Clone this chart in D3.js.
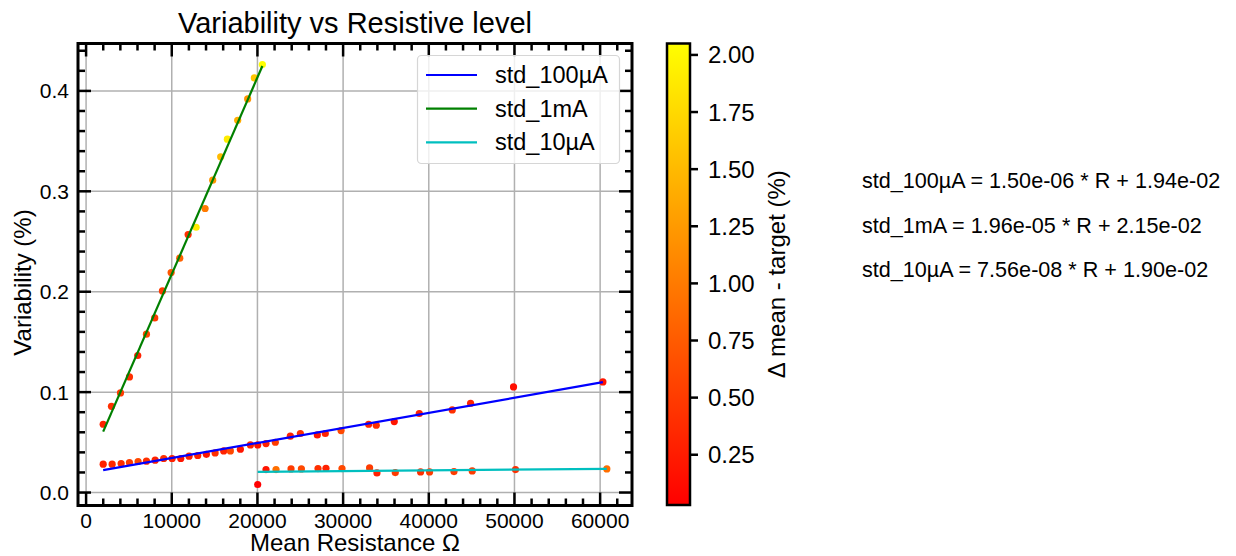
<!DOCTYPE html>
<html>
<head>
<meta charset="utf-8">
<script src="https://cdn.jsdelivr.net/npm/d3@7"></script>
<style>
  body { margin: 0; background: #fff; }
  text { font-family: "Liberation Sans", Arial, sans-serif; fill: #000; }
</style>
</head>
<body>
<script>
// series names and linear fits (variability = slope * R + intercept)
const seriesNames = ["std_100µA", "std_1mA", "std_10µA"]
const seriesColors = ["#0000ff", "#008000", "#00bfbf"]
const fitSlope = [1.50e-06, 1.96e-05, 7.56e-08]
const fitIntercept = [1.94e-02, 2.15e-02, 1.90e-02]

// std_100µA measurements: mean resistance, variability (%), delta mean - target (%)
const r100uA = [1995, 3040, 4090, 5060, 6070, 7045, 8060, 9060, 10040, 11050, 12020, 13030, 14040, 15060, 16060, 16840, 18010, 19180, 20030, 21000, 22090, 23840, 25010, 26990, 27920, 29760, 32980, 33870, 35970, 38890, 42740, 44880, 49890, 60320]
const v100uA = [0.0282, 0.0282, 0.0289, 0.0299, 0.0309, 0.0312, 0.0322, 0.0339, 0.0339, 0.0339, 0.0362, 0.0369, 0.0381, 0.0394, 0.0414, 0.0414, 0.0431, 0.0474, 0.0474, 0.0488, 0.0501, 0.0561, 0.0588, 0.0574, 0.0588, 0.0617, 0.0680, 0.0670, 0.0707, 0.0787, 0.0823, 0.0889, 0.1052, 0.1102]
const d100uA = [0.30, 0.35, 0.40, 0.50, 0.60, 0.40, 0.30, 0.40, 0.30, 0.20, 0.30, 0.30, 0.20, 0.40, 0.30, 0.60, 0.20, 0.30, 0.20, 0.30, 0.50, 0.30, 0.40, 0.20, 0.30, 0.60, 0.30, 0.40, 0.20, 0.30, 0.40, 0.30, 0.15, 0.20]

// std_1mA measurements
const r1mA = [1995, 2963, 4013, 5062, 6030, 7045, 8014, 8912, 9927, 10930, 11910, 12843, 13890, 14780, 15710, 16490, 17695, 18860, 19640, 20576]
const v1mA = [0.0680, 0.0859, 0.0992, 0.1151, 0.1365, 0.1577, 0.1739, 0.2008, 0.2191, 0.2334, 0.2570, 0.2642, 0.2829, 0.3111, 0.3343, 0.3519, 0.3708, 0.3920, 0.4129, 0.4263]
const d1mA = [0.30, 0.40, 0.50, 0.40, 0.30, 0.60, 0.50, 0.50, 0.70, 0.80, 0.40, 1.90, 1.00, 1.20, 1.50, 1.90, 1.40, 1.20, 1.60, 2.05]

// std_10µA measurements
const r10uA = [20030, 21000, 22170, 23920, 25130, 27070, 28000, 29870, 33090, 33950, 36090, 39040, 40090, 42940, 45070, 50120, 60780]
const v10uA = [0.0080, 0.0229, 0.0229, 0.0235, 0.0235, 0.0239, 0.0242, 0.0239, 0.0245, 0.0195, 0.0199, 0.0205, 0.0205, 0.0209, 0.0215, 0.0229, 0.0235]
const d10uA = [0.03, 0.20, 0.90, 0.50, 0.60, 0.40, 0.30, 0.60, 0.50, 0.30, 0.50, 0.40, 0.50, 0.50, 0.50, 0.40, 0.90]

const xTicks = [0, 10000, 20000, 30000, 40000, 50000, 60000]
const yTicks = [0.0, 0.1, 0.2, 0.3, 0.4]
const cbarTicks = [0.25, 0.5, 0.75, 1.0, 1.25, 1.5, 1.75, 2.0]

const series = [
  { r: r100uA, v: v100uA, d: d100uA },
  { r: r1mA, v: v1mA, d: d1mA },
  { r: r10uA, v: v10uA, d: d10uA },
].map((s, i) => ({
  name: seriesNames[i],
  color: seriesColors[i],
  slope: fitSlope[i],
  intercept: fitIntercept[i],
  points: s.r.map((r, j) => ({ r: r, v: s.v[j], d: s.d[j] })),
}))

const w = 1236
const h = 556
const plot = { left: 78, right: 632, top: 43.5, bottom: 505.5 }
const cbar = { left: 667, right: 690, top: 43.5, bottom: 505 }

const svg = d3.select("body").append("svg").attr("width", w).attr("height", h)

// matplotlib-style 5% margins around the data
const allPts = series.flatMap((s) => s.points)
const [rMin, rMax] = d3.extent(allPts, (p) => p.r)
const [vMin, vMax] = d3.extent(allPts, (p) => p.v)
const rPad = (rMax - rMin) * 0.05
const vPad = (vMax - vMin) * 0.05

const xScale = d3
  .scaleLinear()
  .domain([rMin - rPad, rMax + rPad])
  .range([plot.left, plot.right])

const yScale = d3
  .scaleLinear()
  .domain([vMin - vPad, vMax + vPad])
  .range([plot.bottom, plot.top])

const dExtent = d3.extent(allPts, (p) => p.d)
const colorScale = d3
  .scaleLinear()
  .domain(dExtent)
  .range(["#ff0000", "#ffff00"])

const cScale = d3
  .scaleLinear()
  .domain(dExtent)
  .range([cbar.bottom, cbar.top])

// grid
const grid = svg.append("g")
grid
  .selectAll("line.gx")
  .data(xTicks)
  .enter()
  .append("line")
  .attr("x1", (d) => xScale(d))
  .attr("x2", (d) => xScale(d))
  .attr("y1", plot.top)
  .attr("y2", plot.bottom)
  .attr("stroke", "#b0b0b0")
  .attr("stroke-width", 1.5)
grid
  .selectAll("line.gy")
  .data(yTicks)
  .enter()
  .append("line")
  .attr("x1", plot.left)
  .attr("x2", plot.right)
  .attr("y1", (d) => yScale(d))
  .attr("y2", (d) => yScale(d))
  .attr("stroke", "#b0b0b0")
  .attr("stroke-width", 1.5)

// scatter points coloured by delta
svg
  .append("g")
  .selectAll("circle")
  .data(allPts)
  .enter()
  .append("circle")
  .attr("cx", (d) => xScale(d.r))
  .attr("cy", (d) => yScale(d.v))
  .attr("r", 3.6)
  .attr("fill", (d) => colorScale(d.d))

// fit lines across each series' resistance range
series.forEach((s) => {
  const ext = d3.extent(s.points, (p) => p.r)
  svg
    .append("line")
    .attr("x1", xScale(ext[0]))
    .attr("x2", xScale(ext[1]))
    .attr("y1", yScale(s.slope * ext[0] + s.intercept))
    .attr("y2", yScale(s.slope * ext[1] + s.intercept))
    .attr("stroke", s.color)
    .attr("stroke-width", 2.2)
})

// inward ticks on all four sides
const xMinor = d3.range(0, 64000, 2000).filter((d) => d % 10000 !== 0)
const yMinor = d3.range(0, 0.45, 0.02).filter((d) => Math.abs(d * 10 - Math.round(d * 10)) > 1e-6)
const ticks = svg.append("g").attr("stroke", "#000").attr("stroke-width", 2.5)
function tickMarks(values, len, horizontal) {
  values.forEach((v) => {
    if (horizontal) {
      const x = xScale(v)
      ticks.append("line").attr("x1", x).attr("x2", x).attr("y1", plot.bottom).attr("y2", plot.bottom - len)
      ticks.append("line").attr("x1", x).attr("x2", x).attr("y1", plot.top).attr("y2", plot.top + len)
    } else {
      const y = yScale(v)
      ticks.append("line").attr("x1", plot.left).attr("x2", plot.left + len).attr("y1", y).attr("y2", y)
      ticks.append("line").attr("x1", plot.right).attr("x2", plot.right - len).attr("y1", y).attr("y2", y)
    }
  })
}
tickMarks(xTicks, 13, true)
tickMarks(xMinor, 7, true)
tickMarks(yTicks, 13, false)
tickMarks(yMinor, 7, false)

svg
  .append("rect")
  .attr("x", plot.left)
  .attr("y", plot.top)
  .attr("width", plot.right - plot.left)
  .attr("height", plot.bottom - plot.top)
  .attr("fill", "none")
  .attr("stroke", "#000")
  .attr("stroke-width", 3)

// tick labels
svg
  .append("g")
  .selectAll("text")
  .data(xTicks)
  .enter()
  .append("text")
  .attr("x", (d) => xScale(d))
  .attr("y", plot.bottom + 22)
  .attr("text-anchor", "middle")
  .attr("font-size", "21px")
  .text((d) => d3.format("d")(d))

svg
  .append("g")
  .selectAll("text")
  .data(yTicks)
  .enter()
  .append("text")
  .attr("x", plot.left - 9)
  .attr("y", (d) => yScale(d) + 7.5)
  .attr("text-anchor", "end")
  .attr("font-size", "21px")
  .text((d) => d3.format(".1f")(d))

// titles
svg
  .append("text")
  .attr("x", (plot.left + plot.right) / 2)
  .attr("y", 33)
  .attr("text-anchor", "middle")
  .attr("font-size", "29px")
  .text("Variability vs Resistive level")

svg
  .append("text")
  .attr("x", (plot.left + plot.right) / 2)
  .attr("y", 551)
  .attr("text-anchor", "middle")
  .attr("font-size", "24px")
  .text("Mean Resistance Ω")

svg
  .append("text")
  .attr("transform", `translate(31,${(plot.top + plot.bottom) / 2 + 8}) rotate(-90)`)
  .attr("text-anchor", "middle")
  .attr("font-size", "24px")
  .text("Variability (%)")

// legend
const legend = svg.append("g")
legend
  .append("rect")
  .attr("x", 417.5)
  .attr("y", 55.5)
  .attr("width", 202)
  .attr("height", 108)
  .attr("rx", 4)
  .attr("fill", "#fff")
  .attr("fill-opacity", 0.8)
  .attr("stroke", "#d6d6d6")
  .attr("stroke-width", 1.2)
series.forEach((s, i) => {
  const y = 75 + i * 33.7
  legend.append("line").attr("x1", 426).attr("x2", 477).attr("y1", y).attr("y2", y).attr("stroke", s.color).attr("stroke-width", 2.2)
  legend.append("text").attr("x", 495).attr("y", y + 8).attr("font-size", "23.5px").text(s.name)
})

// colorbar
const grad = svg
  .append("defs")
  .append("linearGradient")
  .attr("id", "autumn")
  .attr("x1", 0)
  .attr("x2", 0)
  .attr("y1", 1)
  .attr("y2", 0)
grad.append("stop").attr("offset", 0).attr("stop-color", "#ff0000")
grad.append("stop").attr("offset", 1).attr("stop-color", "#ffff00")

svg
  .append("rect")
  .attr("x", cbar.left)
  .attr("y", cbar.top)
  .attr("width", cbar.right - cbar.left)
  .attr("height", cbar.bottom - cbar.top)
  .attr("fill", "url(#autumn)")
  .attr("stroke", "#000")
  .attr("stroke-width", 2.5)

const cbarAxis = svg.append("g")
cbarTicks.forEach((t) => {
  const y = cScale(t)
  cbarAxis.append("line").attr("x1", cbar.right).attr("x2", cbar.right + 8).attr("y1", y).attr("y2", y).attr("stroke", "#000").attr("stroke-width", 2.5)
  cbarAxis.append("text").attr("x", cbar.right + 18).attr("y", y + 8.5).attr("font-size", "24px").text(d3.format(".2f")(t))
})

svg
  .append("text")
  .attr("transform", `translate(785,${(cbar.top + cbar.bottom) / 2}) rotate(-90)`)
  .attr("text-anchor", "middle")
  .attr("font-size", "24px")
  .text("Δ mean - target (%)")

// fit equations
series.forEach((s, i) => {
  svg
    .append("text")
    .attr("x", 862)
    .attr("y", 188 + i * 44.5)
    .attr("font-size", "21.6px")
    .text(`${s.name} = ${s.slope.toExponential(2).replace(/e([+-])(\d)$/, "e$10$2")} * R + ${s.intercept.toExponential(2).replace(/e([+-])(\d)$/, "e$10$2")}`)
})
</script>
</body>
</html>
